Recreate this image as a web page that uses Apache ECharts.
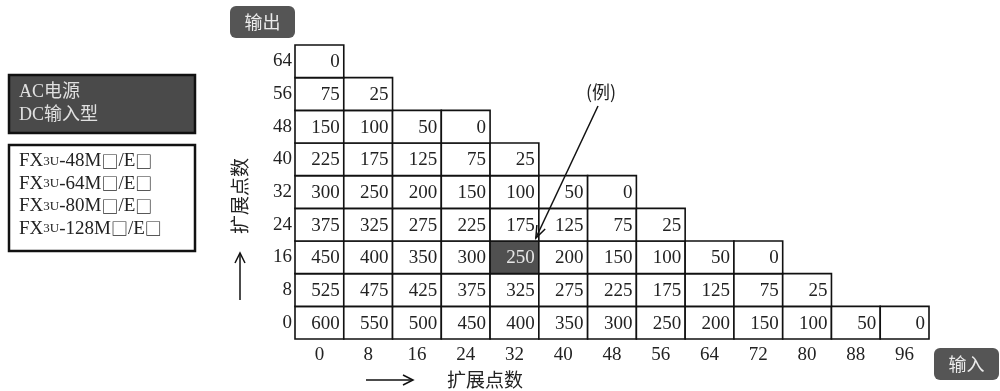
<!DOCTYPE html>
<html><head><meta charset="utf-8">
<script src="https://cdn.jsdelivr.net/npm/echarts@6/dist/echarts.min.js"></script>
<style>html,body{margin:0;padding:0;background:#fff;}#c{width:1000px;height:391px;}</style>
</head><body><div id="c"></div>
<script>
// Tick labels
const xLabels = ['0','8','16','24','32','40','48','56','64','72','80','88','96'];
const yLabels = ['0','8','16','24','32','40','48','56','64'];
// Output points per row (row = expansion output points, columns = expansion input points)
const row0  = [600,550,500,450,400,350,300,250,200,150,100,50,0];
const row8  = [525,475,425,375,325,275,225,175,125,75,25];
const row16 = [450,400,350,300,250,200,150,100,50,0];
const row24 = [375,325,275,225,175,125,75,25];
const row32 = [300,250,200,150,100,50,0];
const row40 = [225,175,125,75,25];
const row48 = [150,100,50,0];
const row56 = [75,25];
const row64 = [0];
const rows = [row0,row8,row16,row24,row32,row40,row48,row56,row64];
// highlighted example cell [x label, y label]
const exampleCell = ['32','16'];
const modelNums = ['48','64','80','128'];

const SERIF = '"Liberation Serif","Noto Sans CJK SC",serif';
const CJK = '"Noto Sans CJK SC","Liberation Serif",sans-serif';

const data = [];
rows.forEach((r, yi) => r.forEach((v, xi) => {
  const hl = (xLabels[xi] === exampleCell[0] && yLabels[yi] === exampleCell[1]) ? 1 : 0;
  data.push([xi, yi, v, hl]);
}));

const chart = echarts.init(document.getElementById('c'), null, {renderer:'canvas'});
const option = {
  animation: false,
  grid: {left: 295, top: 45, width: 634, height: 294, containLabel: false},
  xAxis: {type:'category', data: xLabels, axisLine:{show:false}, axisTick:{show:false}, splitLine:{show:false},
    axisLabel:{fontFamily: SERIF, fontSize: 19, color:'#222', margin: 7}},
  yAxis: {type:'category', data: yLabels, axisLine:{show:false}, axisTick:{show:false}, splitLine:{show:false},
    axisLabel:{fontFamily: SERIF, fontSize: 19, color:'#222', margin: 3}},
  series: [{
    type:'custom',
    data: data,
    renderItem: function(params, api){
      const xi = api.value(0), yi = api.value(1), v = api.value(2), hl = api.value(3);
      const c = api.coord([xi, yi]);
      const s = api.size([1,1]);
      const x = c[0]-s[0]/2, y = c[1]-s[1]/2;
      return {type:'group', children:[
        {type:'rect', shape:{x:x, y:y, width:s[0], height:s[1]},
          style:{fill: hl ? '#505050' : '#fff', stroke:'#111', lineWidth:1.6}},
        {type:'text', style:{text:String(v), x: x+s[0]-4, y: c[1]+1, align:'right', verticalAlign:'middle',
          font:'19px ' + SERIF, fill: hl ? '#e6e6e6' : '#222'}}
      ]};
    }
  }]
};
chart.setOption(option);

// annotation positions derived from the axes
const hlXi = xLabels.indexOf(exampleCell[0]), hlYi = yLabels.indexOf(exampleCell[1]);
const cc = chart.convertToPixel({gridIndex:0}, [hlXi, hlYi]);
const cw = 634/xLabels.length, ch = 294/yLabels.length;
const tip = [cc[0]+cw/2 - 3, cc[1]-ch/2 - 3];
const start = [598, 106];
const ang = Math.atan2(tip[1]-start[1], tip[0]-start[0]);
const hlen = 13, hw = 0.36;
const a1 = [tip[0]-hlen*Math.cos(ang-hw), tip[1]-hlen*Math.sin(ang-hw)];
const a2 = [tip[0]-hlen*Math.cos(ang+hw), tip[1]-hlen*Math.sin(ang+hw)];

const modelTexts = modelNums.map((n, i) => ({
  type:'text', left: 19, top: 163 + i*22.5 - 11, z: 100,
  style:{text:'{a|FX}{b|3U}{a|-' + n + 'M}{s|□}{a|/E}{s|□}', rich:{
    a:{fontFamily: SERIF, fontSize:19, fill:'#222'},
    b:{fontFamily: SERIF, fontSize:13, fill:'#222'},
    s:{fontFamily: CJK, fontSize:17, fill:'#222'}
  }}
}));

chart.setOption({graphic: [
  // output badge
  {type:'rect', z:100, shape:{x:230, y:6, width:65, height:32, r:6}, style:{fill:'#555'}},
  {type:'text', z:101, style:{text:'输出', x:262.5, y:22, align:'center', verticalAlign:'middle', font:'18px ' + CJK, fill:'#ececec'}},
  // input badge
  {type:'rect', z:100, shape:{x:934, y:348, width:65, height:32, r:6}, style:{fill:'#555'}},
  {type:'text', z:101, style:{text:'输入', x:966.5, y:364, align:'center', verticalAlign:'middle', font:'18px ' + CJK, fill:'#ececec'}},
  // left boxes
  {type:'rect', z:100, shape:{x:9, y:75, width:186, height:58}, style:{fill:'#4a4a4a', stroke:'#111', lineWidth:2.5}},
  {type:'text', z:101, style:{text:'AC电源', x:19, y:92, verticalAlign:'middle', font:'18px ' + SERIF, fill:'#e0e0e0'}},
  {type:'text', z:101, style:{text:'DC输入型', x:19, y:115, verticalAlign:'middle', font:'18px ' + SERIF, fill:'#e0e0e0'}},
  {type:'rect', z:100, shape:{x:9, y:145, width:186, height:106}, style:{fill:'#fff', stroke:'#111', lineWidth:2.5}},
  ...modelTexts,
  // axis names and arrows
  {type:'text', z:100, rotation: Math.PI/2, x:240, y:196, style:{text:'扩展点数', align:'center', verticalAlign:'middle', font:'19px ' + CJK, fill:'#222'}},
  {type:'line', z:100, shape:{x1:240, y1:300, x2:240, y2:254}, style:{stroke:'#111', lineWidth:1.5}},
  {type:'polyline', z:100, shape:{points:[[235,263],[240,253],[245,263]]}, style:{stroke:'#111', lineWidth:1.5, fill:null}},
  {type:'text', z:100, style:{text:'扩展点数', x:485, y:380, align:'center', verticalAlign:'middle', font:'19px ' + CJK, fill:'#222'}},
  {type:'line', z:100, shape:{x1:366, y1:380, x2:412, y2:380}, style:{stroke:'#111', lineWidth:1.5}},
  {type:'polyline', z:100, shape:{points:[[403,375],[413,380],[403,385]]}, style:{stroke:'#111', lineWidth:1.5, fill:null}},
  // example annotation
  {type:'text', z:100, style:{text:'(例)', x:601, y:92, align:'center', verticalAlign:'middle', font:'18px ' + CJK, fill:'#222'}},
  {type:'line', z:100, shape:{x1:start[0], y1:start[1], x2:tip[0], y2:tip[1]}, style:{stroke:'#111', lineWidth:1.5}},
  {type:'polyline', z:100, shape:{points:[a1, tip, a2]}, style:{stroke:'#111', lineWidth:1.5, fill:null}}
]});
</script></body></html>
